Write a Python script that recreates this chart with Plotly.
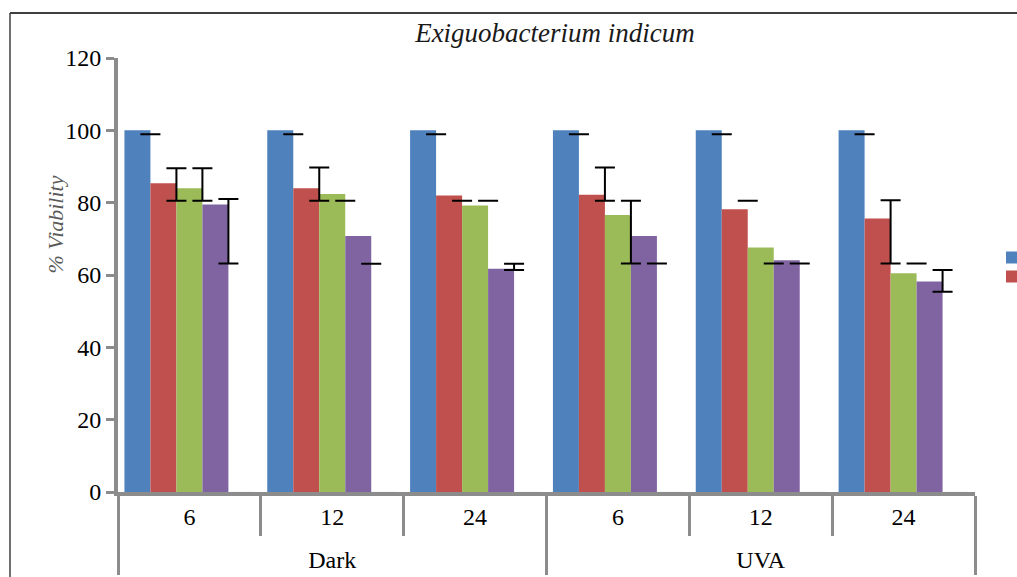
import plotly.graph_objects as go

# ---------------- data ----------------
outer_cats = ["Dark", "Dark", "Dark", "UVA", "UVA", "UVA"]
inner_cats = ["6", "12", "24", "6", "12", "24"]

series_names = ["", "", "", ""]  # legend labels are not visible in the source
blue_vals = [100, 100, 100, 100, 100, 100]
red_vals = [85.4, 84.0, 82.0, 82.2, 78.2, 75.6]
green_vals = [84.0, 82.4, 79.2, 76.6, 67.6, 60.5]
purple_vals = [79.5, 70.8, 61.7, 70.8, 64.1, 58.2]
empty_vals = [0, 0, 0, 0, 0, 0]

# error bar extents (low, high)
blue_err_lo = [98.9, 98.9, 98.9, 98.9, 98.9, 98.9]
blue_err_hi = [98.9, 98.9, 98.9, 98.9, 98.9, 98.9]
red_err_lo = [80.5, 80.5, 80.5, 80.5, 80.5, 63.2]
red_err_hi = [89.5, 89.7, 80.5, 89.7, 80.5, 80.7]
green_err_lo = [80.5, 80.5, 80.5, 63.2, 63.2, 63.2]
green_err_hi = [89.5, 80.5, 80.5, 80.5, 63.2, 63.2]
purple_err_lo = [63.2, 63.1, 61.4, 63.2, 63.2, 55.4]
purple_err_hi = [81.0, 63.1, 63.1, 63.2, 63.2, 61.4]

y_ticks = [0, 20, 40, 60, 80, 100, 120]

colors = ["#4F81BD", "#C0504D", "#9BBB59", "#8064A2"]
legend_shown = [True, True, False, False]
SERIF = "Liberation Serif"


def big(s):
    return f"<span style='font-size:24px'>{s}</span>"


# display labels: large text on a small base font; inner labels get short
# empty extra lines so the outer row sits lower
inner_display = [big(c) + "<br> <br> " for c in inner_cats]
outer_display = [big(c) for c in outer_cats]
x = [outer_display, inner_display]
fig = go.Figure()

vals = [blue_vals, red_vals, green_vals, purple_vals]
for i, (name, v, c) in enumerate(zip(series_names, vals, colors)):
    fig.add_trace(go.Bar(x=x, y=v, name=name, offsetgroup=f"b{i}", alignmentgroup="bars",
                         showlegend=legend_shown[i],
                         marker=dict(color=c, line=dict(width=0)), hoverinfo="skip"))
# fifth (empty) series slot
fig.add_trace(go.Bar(x=x, y=empty_vals, name="", showlegend=False, offsetgroup="b4",
                     alignmentgroup="bars",
                     marker=dict(color="rgba(0,0,0,0)"), hoverinfo="skip"))

errs = [(blue_err_lo, blue_err_hi), (red_err_lo, red_err_hi),
        (green_err_lo, green_err_hi), (purple_err_lo, purple_err_hi)]
for i, (lo, hi) in enumerate(errs):
    mid = [(a + b) / 2 for a, b in zip(lo, hi)]
    half = [(b - a) / 2 for a, b in zip(lo, hi)]
    fig.add_trace(go.Scatter(
        x=x, y=mid, mode="markers", marker=dict(size=1, opacity=0),
        showlegend=False, hoverinfo="skip", offsetgroup=f"e{i}", alignmentgroup="errs",
        error_y=dict(type="data", array=half, symmetric=True,
                     color="black", thickness=2, width=10),
    ))

fig.update_layout(
    width=1017, height=577,
    margin=dict(l=118, r=42, t=58, b=85, autoexpand=False),
    paper_bgcolor="white", plot_bgcolor="white",
    barmode="group", bargap=0.09, bargroupgap=0,
    scattermode="group", scattergap=0.272,
    font=dict(family=SERIF, size=18, color="black"),
    title=dict(text="<i>Exiguobacterium indicum</i>", x=555 / 1017, xref="container",
               xanchor="center", y=1 - 33 / 577, yanchor="middle",
               font=dict(family=SERIF, size=27, color="#1a1a1a")),
    legend=dict(x=(992 - 118) / 857, y=(492 - 243) / 434, xanchor="left", yanchor="top",
                font=dict(size=12), bgcolor="rgba(0,0,0,0)"),
    xaxis=dict(type="multicategory", showline=True, linecolor="#8c8c8c", linewidth=4,
               ticks="outside", tickson="boundaries", ticklen=40, tickwidth=3,
               tickcolor="#8c8c8c", showdividers=True, dividercolor="#8c8c8c",
               dividerwidth=3, showgrid=False, ticklabelstandoff=15,
               tickfont=dict(family=SERIF, size=12, color="black")),
    yaxis=dict(range=[0, 120], tickvals=y_ticks, showline=True, linecolor="#8c8c8c",
               linewidth=4, ticks="outside", ticklen=8, tickwidth=3, tickcolor="#8c8c8c",
               showgrid=False, zeroline=False, ticklabelstandoff=0,
               tickfont=dict(family=SERIF, size=24, color="black")),
    annotations=[dict(text="<i>% Viability</i>", xref="paper", yref="paper",
                      x=(40 - 118) / 857, y=(492 - 225) / 434, showarrow=False,
                      textangle=-90, font=dict(family=SERIF, size=22, color="#595959"))],
    shapes=[
        dict(type="line", xref="paper", yref="paper",
             x0=(10 - 118) / 857, x1=(10 - 118) / 857,
             y0=(492 - 13) / 434, y1=(492 - 600) / 434,
             line=dict(color="#404040", width=1.5)),
        dict(type="line", xref="paper", yref="paper",
             x0=(10 - 118) / 857, x1=(1030 - 118) / 857,
             y0=(492 - 13) / 434, y1=(492 - 13) / 434,
             line=dict(color="#404040", width=2)),
    ],
)

fig.write_html("out.html")
